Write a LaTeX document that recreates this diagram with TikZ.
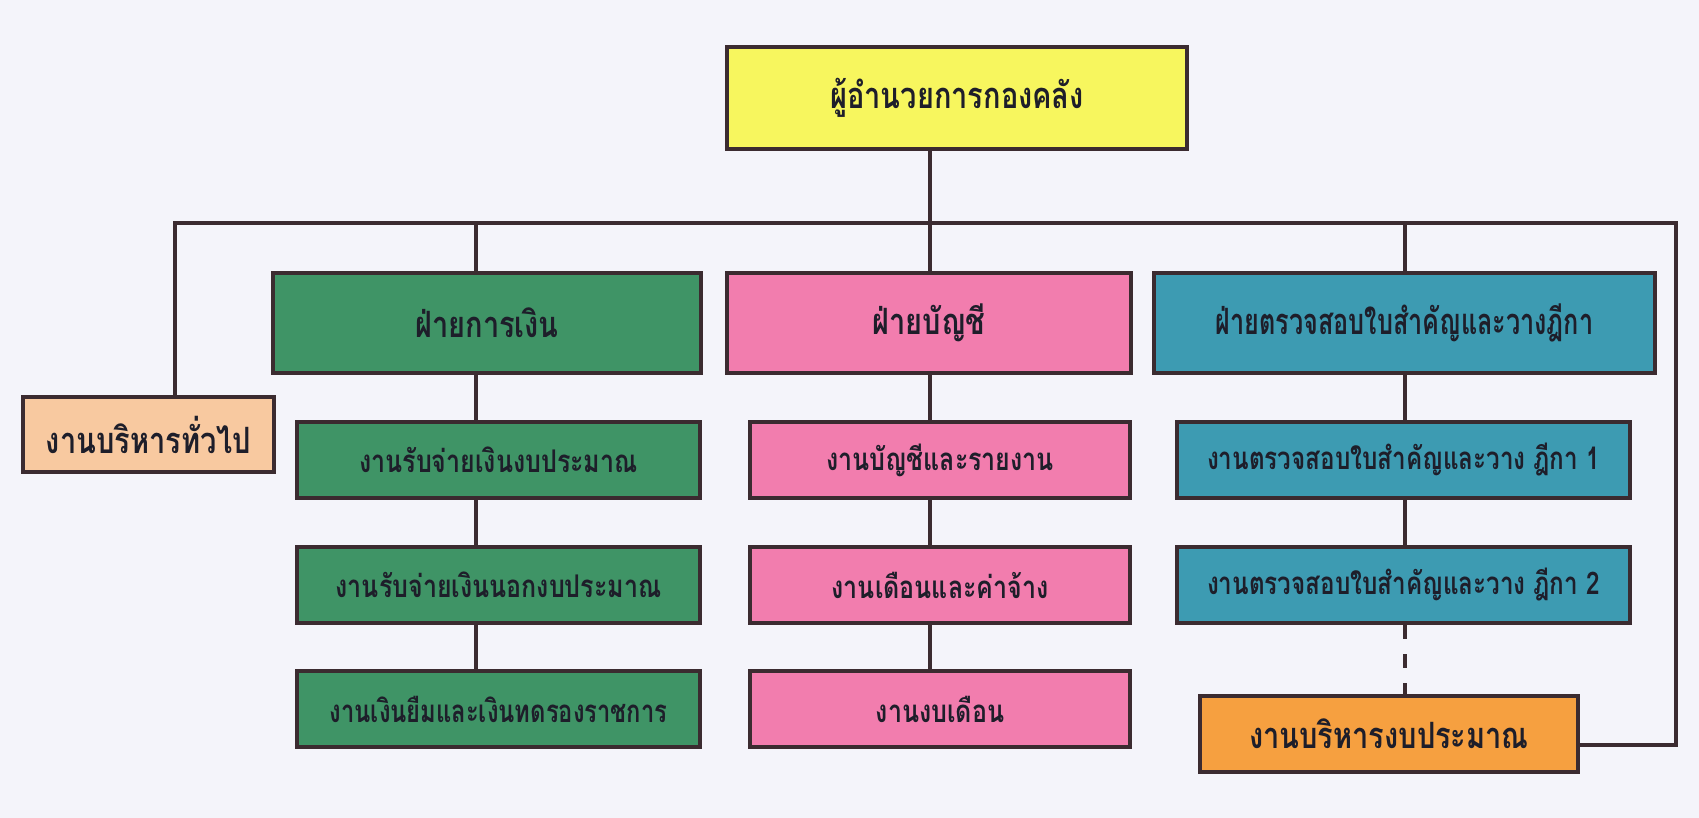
\documentclass[tikz,border=0pt]{standalone}
\usepackage{fontspec}
\usepackage{graphicx}
\newfontfamily\thaifont[Script=Thai]{Loma}
\newcommand{\Tx}[2][1]{\scalebox{#1}[1.25]{#2}}
\definecolor{bgc}{HTML}{F4F4FA}
\definecolor{edgec}{HTML}{3B2B30}
\definecolor{yellowc}{HTML}{F7F65E}
\definecolor{peachc}{HTML}{F8C9A0}
\definecolor{greenc}{HTML}{3F9466}
\definecolor{pinkc}{HTML}{F27DAE}
\definecolor{bluec}{HTML}{3D9BB2}
\definecolor{orangec}{HTML}{F6A040}
\definecolor{textc}{HTML}{1E1E2A}
\tikzset{
  box/.style={draw=edgec, line width=2pt, inner sep=0pt, text=textc,
    font=\thaifont\bfseries\fontsize{12.5}{15}\selectfont},
  headbox/.style={box, minimum height=50pt, font=\thaifont\bfseries\fontsize{14.5}{18}\selectfont},
  subbox/.style={box, minimum height=38pt},
  link/.style={draw=edgec, line width=2pt},
}
\begin{document}
\begin{tikzpicture}[x=0.5pt,y=-0.5pt]
\fill[bgc] (0,0) rectangle (1699,818);
\useasboundingbox (0,0) rectangle (1699,818);

\node[headbox, fill=yellowc, minimum width=230pt, minimum height=51pt] (top) at (957,98) {\Tx{ผู้อำนวยการกองคลัง}};
\node[subbox, fill=peachc, minimum width=125.5pt, minimum height=37.5pt, font=\thaifont\bfseries\fontsize{14.5}{18}\selectfont] (admin) at (148.5,434.5) {\Tx{งานบริหารทั่วไป}};

\node[headbox, fill=greenc, minimum width=214pt] (fin) at (487,323) {\Tx{ฝ่ายการเงิน}};
\node[subbox, fill=greenc, minimum width=201.5pt] (fin1) at (498.5,460) {\Tx{งานรับจ่ายเงินงบประมาณ}};
\node[subbox, fill=greenc, minimum width=201.5pt] (fin2) at (498.5,585) {\Tx{งานรับจ่ายเงินนอกงบประมาณ}};
\node[subbox, fill=greenc, minimum width=201.5pt] (fin3) at (498.5,709) {\Tx[0.95]{งานเงินยืมและเงินทดรองราชการ}};

\node[headbox, fill=pinkc, minimum width=202pt] (acc) at (929,323) {\Tx{ฝ่ายบัญชี}};
\node[subbox, fill=pinkc, minimum width=190pt] (acc1) at (940,460) {\Tx{งานบัญชีและรายงาน}};
\node[subbox, fill=pinkc, minimum width=190pt] (acc2) at (940,585) {\Tx{งานเดือนและค่าจ้าง}};
\node[subbox, fill=pinkc, minimum width=190pt] (acc3) at (940,709) {\Tx{งานงบเดือน}};

\node[headbox, fill=bluec, minimum width=250.5pt] (aud) at (1404.5,323) {\Tx[0.87]{ฝ่ายตรวจสอบใบสำคัญและวางฎีกา}};
\node[subbox, fill=bluec, minimum width=226.5pt] (aud1) at (1403.5,460) {\Tx[0.97]{งานตรวจสอบใบสำคัญและวาง ฎีกา 1}};
\node[subbox, fill=bluec, minimum width=226.5pt] (aud2) at (1403.5,585) {\Tx[0.97]{งานตรวจสอบใบสำคัญและวาง ฎีกา 2}};

\node[subbox, fill=orangec, minimum width=189pt, font=\thaifont\bfseries\fontsize{14.5}{18}\selectfont] (budget) at (1389,734) {\Tx{งานบริหารงบประมาณ}};

\coordinate (busL) at (175,223);
\coordinate (busR) at (1676,223);
\coordinate (cf) at (476,223);
\coordinate (ca) at (930,223);
\coordinate (cb) at (1405,223);
\coordinate (cr) at (1676,745);

\draw[link] (busL |- admin.north) -- (busL) -- (busR) -- (cr) -- (cr -| budget.east);
\draw[link] (ca |- top.south) -- (ca |- acc.north);
\draw[link] (cf) -- (cf |- fin.north);
\draw[link] (cb) -- (cb |- aud.north);
\draw[link] (cf |- fin.south) -- (cf |- fin1.north);
\draw[link] (cf |- fin1.south) -- (cf |- fin2.north);
\draw[link] (cf |- fin2.south) -- (cf |- fin3.north);
\draw[link] (ca |- acc.south) -- (ca |- acc1.north);
\draw[link] (ca |- acc1.south) -- (ca |- acc2.north);
\draw[link] (ca |- acc2.south) -- (ca |- acc3.north);
\draw[link] (cb |- aud.south) -- (cb |- aud1.north);
\draw[link] (cb |- aud1.south) -- (cb |- aud2.north);
\draw[link, dash pattern=on 7pt off 7.5pt] (cb |- aud2.south) -- (cb |- budget.north);
\end{tikzpicture}
\end{document}
